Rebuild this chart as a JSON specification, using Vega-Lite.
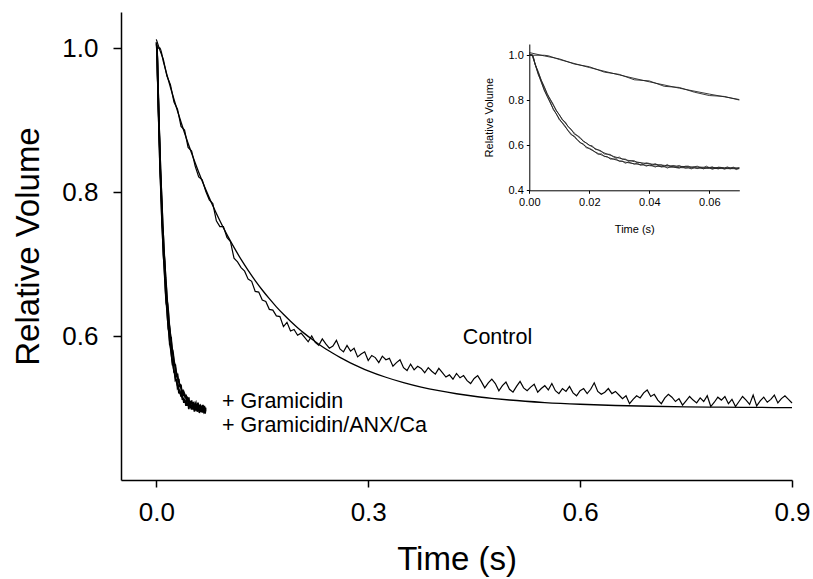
{
"$schema":"https://vega.github.io/schema/vega-lite/v6.json",
"width":671,"height":468,"autosize":"none",
"padding":{"left":121,"top":12,"right":21,"bottom":99},
"background":"white",
"config":{"view":{"stroke":null},"font":"Liberation Sans","axis":{"grid":false,"domainColor":"black","tickColor":"black","labelColor":"black","titleColor":"black","titleFontWeight":"normal","labelFont":"Liberation Sans","titleFont":"Liberation Sans"}},
"datasets":{
"control":[
{"t":0,"v":1.012},{"t":0.005,"v":0.997},{"t":0.01,"v":0.984},{"t":0.015,"v":0.961},{"t":0.02,"v":0.949},{"t":0.025,"v":0.925},{"t":0.03,"v":0.915},{"t":0.035,"v":0.891},{"t":0.04,"v":0.886},{"t":0.045,"v":0.862},{"t":0.05,"v":0.857},{"t":0.055,"v":0.836},{"t":0.06,"v":0.821},{"t":0.065,"v":0.817},{"t":0.07,"v":0.801},{"t":0.075,"v":0.789},{"t":0.08,"v":0.784},{"t":0.085,"v":0.760},{"t":0.09,"v":0.752},{"t":0.095,"v":0.752},{"t":0.1,"v":0.737},
{"t":0.105,"v":0.731},{"t":0.11,"v":0.708},{"t":0.115,"v":0.703},{"t":0.12,"v":0.695},{"t":0.125,"v":0.690},{"t":0.13,"v":0.679},{"t":0.135,"v":0.676},{"t":0.14,"v":0.662},{"t":0.145,"v":0.661},{"t":0.15,"v":0.650},{"t":0.155,"v":0.648},{"t":0.16,"v":0.637},{"t":0.165,"v":0.636},{"t":0.17,"v":0.628},{"t":0.175,"v":0.627},{"t":0.18,"v":0.613},{"t":0.185,"v":0.619},{"t":0.19,"v":0.607},{"t":0.195,"v":0.609},{"t":0.2,"v":0.601},
{"t":0.205,"v":0.604},{"t":0.21,"v":0.598},{"t":0.215,"v":0.592},{"t":0.22,"v":0.600},{"t":0.225,"v":0.591},{"t":0.23,"v":0.587},{"t":0.235,"v":0.596},{"t":0.24,"v":0.589},{"t":0.245,"v":0.583},{"t":0.25,"v":0.586},{"t":0.255,"v":0.594},{"t":0.26,"v":0.582},{"t":0.265,"v":0.578},{"t":0.27,"v":0.587},{"t":0.275,"v":0.579},{"t":0.28,"v":0.583},{"t":0.285,"v":0.571},{"t":0.29,"v":0.575},{"t":0.295,"v":0.578},{"t":0.3,"v":0.566},
{"t":0.305,"v":0.573},{"t":0.31,"v":0.570},{"t":0.315,"v":0.563},{"t":0.32,"v":0.572},{"t":0.325,"v":0.567},{"t":0.33,"v":0.569},{"t":0.335,"v":0.558},{"t":0.34,"v":0.563},{"t":0.345,"v":0.567},{"t":0.35,"v":0.556},{"t":0.355,"v":0.552},{"t":0.36,"v":0.561},{"t":0.365,"v":0.553},{"t":0.37,"v":0.558},{"t":0.375,"v":0.555},{"t":0.38,"v":0.549},{"t":0.385,"v":0.556},{"t":0.39,"v":0.551},{"t":0.395,"v":0.547},{"t":0.4,"v":0.555},
{"t":0.405,"v":0.549},{"t":0.41,"v":0.543},{"t":0.415,"v":0.546},{"t":0.42,"v":0.540},{"t":0.425,"v":0.548},{"t":0.43,"v":0.542},{"t":0.435,"v":0.545},{"t":0.44,"v":0.538},{"t":0.445,"v":0.534},{"t":0.45,"v":0.541},{"t":0.455,"v":0.545},{"t":0.46,"v":0.537},{"t":0.465,"v":0.528},{"t":0.47,"v":0.535},{"t":0.475,"v":0.540},{"t":0.48,"v":0.534},{"t":0.485,"v":0.524},{"t":0.49,"v":0.531},{"t":0.495,"v":0.536},{"t":0.5,"v":0.526},
{"t":0.505,"v":0.522},{"t":0.51,"v":0.530},{"t":0.515,"v":0.537},{"t":0.52,"v":0.528},{"t":0.525,"v":0.524},{"t":0.53,"v":0.529},{"t":0.535,"v":0.533},{"t":0.54,"v":0.522},{"t":0.545,"v":0.527},{"t":0.55,"v":0.531},{"t":0.555,"v":0.525},{"t":0.56,"v":0.534},{"t":0.565,"v":0.524},{"t":0.57,"v":0.520},{"t":0.575,"v":0.527},{"t":0.58,"v":0.523},{"t":0.585,"v":0.530},{"t":0.59,"v":0.521},{"t":0.595,"v":0.517},{"t":0.6,"v":0.524},
{"t":0.605,"v":0.527},{"t":0.61,"v":0.520},{"t":0.615,"v":0.526},{"t":0.62,"v":0.535},{"t":0.625,"v":0.523},{"t":0.63,"v":0.519},{"t":0.635,"v":0.522},{"t":0.64,"v":0.527},{"t":0.645,"v":0.520},{"t":0.65,"v":0.523},{"t":0.655,"v":0.518},{"t":0.66,"v":0.513},{"t":0.665,"v":0.517},{"t":0.67,"v":0.506},{"t":0.675,"v":0.512},{"t":0.68,"v":0.517},{"t":0.685,"v":0.514},{"t":0.69,"v":0.521},{"t":0.695,"v":0.525},{"t":0.7,"v":0.516},
{"t":0.705,"v":0.519},{"t":0.71,"v":0.511},{"t":0.715,"v":0.506},{"t":0.72,"v":0.514},{"t":0.725,"v":0.519},{"t":0.73,"v":0.515},{"t":0.735,"v":0.509},{"t":0.74,"v":0.513},{"t":0.745,"v":0.504},{"t":0.75,"v":0.510},{"t":0.755,"v":0.516},{"t":0.76,"v":0.511},{"t":0.765,"v":0.507},{"t":0.77,"v":0.514},{"t":0.775,"v":0.509},{"t":0.78,"v":0.517},{"t":0.785,"v":0.502},{"t":0.79,"v":0.508},{"t":0.795,"v":0.515},{"t":0.8,"v":0.511},
{"t":0.805,"v":0.516},{"t":0.81,"v":0.506},{"t":0.815,"v":0.512},{"t":0.82,"v":0.502},{"t":0.825,"v":0.509},{"t":0.83,"v":0.516},{"t":0.835,"v":0.511},{"t":0.84,"v":0.505},{"t":0.845,"v":0.518},{"t":0.85,"v":0.503},{"t":0.855,"v":0.510},{"t":0.86,"v":0.515},{"t":0.865,"v":0.508},{"t":0.87,"v":0.512},{"t":0.875,"v":0.518},{"t":0.88,"v":0.507},{"t":0.885,"v":0.513},{"t":0.89,"v":0.517},{"t":0.895,"v":0.512},{"t":0.9,"v":0.507}
],
"controlFit":[
{"t":0,"v":1.0},{"t":0.005,"v":1.0},{"t":0.01,"v":0.9811},{"t":0.02,"v":0.9455},{"t":0.03,"v":0.9125},{"t":0.04,"v":0.882},{"t":0.05,"v":0.8537},{"t":0.06,"v":0.8275},{"t":0.07,"v":0.8033},{"t":0.08,"v":0.7808},{"t":0.09,"v":0.76},{"t":0.1,"v":0.7408},{"t":0.11,"v":0.723},{"t":0.12,"v":0.7064},{"t":0.13,"v":0.6912},{"t":0.14,"v":0.677},{"t":0.15,"v":0.6639},{"t":0.16,"v":0.6518},{"t":0.17,"v":0.6405},{"t":0.18,"v":0.6301},{"t":0.19,"v":0.6205},{"t":0.2,"v":0.6116},{"t":0.21,"v":0.6033},{"t":0.22,"v":0.5957},{"t":0.23,"v":0.5886},{"t":0.24,"v":0.582},{"t":0.25,"v":0.576},{"t":0.26,"v":0.5703},{"t":0.27,"v":0.5651},{"t":0.28,"v":0.5603},{"t":0.29,"v":0.5558},{"t":0.3,"v":0.5517},{"t":0.325,"v":0.5427},{"t":0.35,"v":0.5352},{"t":0.375,"v":0.529},{"t":0.4,"v":0.524},{"t":0.425,"v":0.5198},{"t":0.45,"v":0.5163},{"t":0.475,"v":0.5135},{"t":0.5,"v":0.5111},{"t":0.55,"v":0.5076},{"t":0.6,"v":0.5052},{"t":0.65,"v":0.5035},{"t":0.7,"v":0.5024},{"t":0.75,"v":0.5016},{"t":0.8,"v":0.5011},{"t":0.85,"v":0.5008},{"t":0.9,"v":0.5005}
],
"gram":[
{"t":0,"v":1.008,"s":"g1"},{"t":0.001,"v":0.996,"s":"g1"},{"t":0.002,"v":0.9591,"s":"g1"},{"t":0.003,"v":0.9141,"s":"g1"},{"t":0.004,"v":0.8835,"s":"g1"},{"t":0.005,"v":0.843,"s":"g1"},{"t":0.006,"v":0.8176,"s":"g1"},{"t":0.007,"v":0.7927,"s":"g1"},{"t":0.008,"v":0.7582,"s":"g1"},{"t":0.009,"v":0.74,"s":"g1"},{"t":0.01,"v":0.7128,"s":"g1"},{"t":0.011,"v":0.7015,"s":"g1"},{"t":0.012,"v":0.6848,"s":"g1"},{"t":0.013,"v":0.6626,"s":"g1"},{"t":0.014,"v":0.6459,"s":"g1"},{"t":0.015,"v":0.6414,"s":"g1"},{"t":0.016,"v":0.6251,"s":"g1"},{"t":0.017,"v":0.6099,"s":"g1"},{"t":0.018,"v":0.6067,"s":"g1"},{"t":0.019,"v":0.5883,"s":"g1"},{"t":0.02,"v":0.5868,"s":"g1"},{"t":0.021,"v":0.58,"s":"g1"},{"t":0.022,"v":0.5688,"s":"g1"},{"t":0.023,"v":0.5593,"s":"g1"},{"t":0.024,"v":0.5624,"s":"g1"},{"t":0.025,"v":0.55,"s":"g1"},{"t":0.026,"v":0.55,"s":"g1"},{"t":0.027,"v":0.5385,"s":"g1"},{"t":0.028,"v":0.5394,"s":"g1"},{"t":0.029,"v":0.5386,"s":"g1"},{"t":0.03,"v":0.5282,"s":"g1"},{"t":0.031,"v":0.53,"s":"g1"},{"t":0.032,"v":0.5201,"s":"g1"},{"t":0.033,"v":0.5255,"s":"g1"},{"t":0.034,"v":0.5211,"s":"g1"},{"t":0.035,"v":0.5159,"s":"g1"},{"t":0.036,"v":0.521,"s":"g1"},{"t":0.037,"v":0.5111,"s":"g1"},{"t":0.038,"v":0.5145,"s":"g1"},{"t":0.039,"v":0.507,"s":"g1"},{"t":0.04,"v":0.5126,"s":"g1"},{"t":0.041,"v":0.5093,"s":"g1"},{"t":0.042,"v":0.5031,"s":"g1"},{"t":0.043,"v":0.5101,"s":"g1"},{"t":0.044,"v":0.5031,"s":"g1"},{"t":0.045,"v":0.5072,"s":"g1"},{"t":0.046,"v":0.4984,"s":"g1"},{"t":0.047,"v":0.5047,"s":"g1"},{"t":0.048,"v":0.506,"s":"g1"},{"t":0.049,"v":0.5004,"s":"g1"},{"t":0.05,"v":0.4979,"s":"g1"},{"t":0.051,"v":0.5054,"s":"g1"},{"t":0.052,"v":0.4979,"s":"g1"},{"t":0.053,"v":0.5004,"s":"g1"},{"t":0.054,"v":0.495,"s":"g1"},{"t":0.055,"v":0.5017,"s":"g1"},{"t":0.056,"v":0.4964,"s":"g1"},{"t":0.057,"v":0.5021,"s":"g1"},{"t":0.058,"v":0.4948,"s":"g1"},{"t":0.059,"v":0.4996,"s":"g1"},{"t":0.06,"v":0.5003,"s":"g1"},{"t":0.061,"v":0.4931,"s":"g1"},{"t":0.062,"v":0.498,"s":"g1"},{"t":0.063,"v":0.4948,"s":"g1"},{"t":0.064,"v":0.5006,"s":"g1"},{"t":0.065,"v":0.4935,"s":"g1"},{"t":0.066,"v":0.4984,"s":"g1"},{"t":0.067,"v":0.4953,"s":"g1"},{"t":0.068,"v":0.4992,"s":"g1"},{"t":0.069,"v":0.4921,"s":"g1"},{"t":0.07,"v":0.498,"s":"g1"},
{"t":0,"v":1.005,"s":"g2"},{"t":0.001,"v":1.003,"s":"g2"},{"t":0.002,"v":0.9568,"s":"g2"},{"t":0.003,"v":0.9269,"s":"g2"},{"t":0.004,"v":0.887,"s":"g2"},{"t":0.005,"v":0.8607,"s":"g2"},{"t":0.006,"v":0.8249,"s":"g2"},{"t":0.007,"v":0.8045,"s":"g2"},{"t":0.008,"v":0.7821,"s":"g2"},{"t":0.009,"v":0.7527,"s":"g2"},{"t":0.01,"v":0.7361,"s":"g2"},{"t":0.011,"v":0.7122,"s":"g2"},{"t":0.012,"v":0.7037,"s":"g2"},{"t":0.013,"v":0.6817,"s":"g2"},{"t":0.014,"v":0.6709,"s":"g2"},{"t":0.015,"v":0.6493,"s":"g2"},{"t":0.016,"v":0.6438,"s":"g2"},{"t":0.017,"v":0.6343,"s":"g2"},{"t":0.018,"v":0.6167,"s":"g2"},{"t":0.019,"v":0.6101,"s":"g2"},{"t":0.02,"v":0.5991,"s":"g2"},{"t":0.021,"v":0.5978,"s":"g2"},{"t":0.022,"v":0.5812,"s":"g2"},{"t":0.023,"v":0.5803,"s":"g2"},{"t":0.024,"v":0.5748,"s":"g2"},{"t":0.025,"v":0.5609,"s":"g2"},{"t":0.026,"v":0.5606,"s":"g2"},{"t":0.027,"v":0.5595,"s":"g2"},{"t":0.028,"v":0.5489,"s":"g2"},{"t":0.029,"v":0.5427,"s":"g2"},{"t":0.03,"v":0.5478,"s":"g2"},{"t":0.031,"v":0.5382,"s":"g2"},{"t":0.032,"v":0.5389,"s":"g2"},{"t":0.033,"v":0.5289,"s":"g2"},{"t":0.034,"v":0.5321,"s":"g2"},{"t":0.035,"v":0.5315,"s":"g2"},{"t":0.036,"v":0.5222,"s":"g2"},{"t":0.037,"v":0.5231,"s":"g2"},{"t":0.038,"v":0.516,"s":"g2"},{"t":0.039,"v":0.5221,"s":"g2"},{"t":0.04,"v":0.5195,"s":"g2"},{"t":0.041,"v":0.5129,"s":"g2"},{"t":0.042,"v":0.5185,"s":"g2"},{"t":0.043,"v":0.5112,"s":"g2"},{"t":0.044,"v":0.5131,"s":"g2"},{"t":0.045,"v":0.5068,"s":"g2"},{"t":0.046,"v":0.5148,"s":"g2"},{"t":0.047,"v":0.505,"s":"g2"},{"t":0.048,"v":0.51,"s":"g2"},{"t":0.049,"v":0.5062,"s":"g2"},{"t":0.05,"v":0.5105,"s":"g2"},{"t":0.051,"v":0.5028,"s":"g2"},{"t":0.052,"v":0.5072,"s":"g2"},{"t":0.053,"v":0.5076,"s":"g2"},{"t":0.054,"v":0.5001,"s":"g2"},{"t":0.055,"v":0.5046,"s":"g2"},{"t":0.056,"v":0.5071,"s":"g2"},{"t":0.057,"v":0.5007,"s":"g2"},{"t":0.058,"v":0.4994,"s":"g2"},{"t":0.059,"v":0.5074,"s":"g2"},{"t":0.06,"v":0.5,"s":"g2"},{"t":0.061,"v":0.5047,"s":"g2"},{"t":0.062,"v":0.4971,"s":"g2"},{"t":0.063,"v":0.5031,"s":"g2"},{"t":0.064,"v":0.5016,"s":"g2"},{"t":0.065,"v":0.4976,"s":"g2"},{"t":0.066,"v":0.5042,"s":"g2"},{"t":0.067,"v":0.4983,"s":"g2"},{"t":0.068,"v":0.5029,"s":"g2"},{"t":0.069,"v":0.4959,"s":"g2"},{"t":0.07,"v":0.5006,"s":"g2"}
],
"gramFit":[
{"t":0,"v":1.0,"s":"g1"},{"t":0.001,"v":1.0,"s":"g1"},{"t":0.002,"v":0.9561,"s":"g1"},{"t":0.003,"v":0.9161,"s":"g1"},{"t":0.004,"v":0.8795,"s":"g1"},{"t":0.005,"v":0.846,"s":"g1"},{"t":0.006,"v":0.8156,"s":"g1"},{"t":0.007,"v":0.7877,"s":"g1"},{"t":0.008,"v":0.7622,"s":"g1"},{"t":0.009,"v":0.739,"s":"g1"},{"t":0.01,"v":0.7178,"s":"g1"},{"t":0.012,"v":0.6808,"s":"g1"},{"t":0.014,"v":0.6499,"s":"g1"},{"t":0.016,"v":0.6241,"s":"g1"},{"t":0.018,"v":0.6027,"s":"g1"},{"t":0.02,"v":0.5848,"s":"g1"},{"t":0.023,"v":0.5633,"s":"g1"},{"t":0.026,"v":0.547,"s":"g1"},{"t":0.03,"v":0.5312,"s":"g1"},{"t":0.035,"v":0.5179,"s":"g1"},{"t":0.04,"v":0.5096,"s":"g1"},{"t":0.045,"v":0.5042,"s":"g1"},{"t":0.05,"v":0.5009,"s":"g1"},{"t":0.055,"v":0.4987,"s":"g1"},{"t":0.06,"v":0.4973,"s":"g1"},{"t":0.065,"v":0.4965,"s":"g1"},{"t":0.07,"v":0.496,"s":"g1"},
{"t":0,"v":1.0,"s":"g2"},{"t":0.001,"v":1.0,"s":"g2"},{"t":0.002,"v":0.9598,"s":"g2"},{"t":0.003,"v":0.9229,"s":"g2"},{"t":0.004,"v":0.889,"s":"g2"},{"t":0.005,"v":0.8577,"s":"g2"},{"t":0.006,"v":0.8289,"s":"g2"},{"t":0.007,"v":0.8025,"s":"g2"},{"t":0.008,"v":0.7781,"s":"g2"},{"t":0.009,"v":0.7557,"s":"g2"},{"t":0.01,"v":0.7351,"s":"g2"},{"t":0.012,"v":0.6987,"s":"g2"},{"t":0.014,"v":0.6679,"s":"g2"},{"t":0.016,"v":0.6418,"s":"g2"},{"t":0.018,"v":0.6197,"s":"g2"},{"t":0.02,"v":0.6011,"s":"g2"},{"t":0.023,"v":0.5783,"s":"g2"},{"t":0.026,"v":0.5605,"s":"g2"},{"t":0.03,"v":0.5428,"s":"g2"},{"t":0.035,"v":0.5275,"s":"g2"},{"t":0.04,"v":0.5175,"s":"g2"},{"t":0.045,"v":0.5108,"s":"g2"},{"t":0.05,"v":0.5065,"s":"g2"},{"t":0.055,"v":0.5036,"s":"g2"},{"t":0.06,"v":0.5017,"s":"g2"},{"t":0.065,"v":0.5004,"s":"g2"},{"t":0.07,"v":0.4996,"s":"g2"}
],
"labels":[
{"t":0.434,"v":0.597,"label":"Control"},
{"t":0.093,"v":0.508,"label":"+ Gramicidin"},
{"t":0.093,"v":0.4755,"label":"+ Gramicidin/ANX/Ca"}
]
},
"layer":[
{
"encoding":{
"x":{"field":"t","type":"quantitative","scale":{"domain":[-0.05,0.9],"nice":false,"zero":false},
"axis":{"orient":"bottom","values":[0,0.3,0.6,0.9],"format":".1f","title":"Time (s)","labelFontSize":26,"titleFontSize":33,"tickSize":7,"tickWidth":1.5,"domainWidth":1.5,"labelPadding":12,"titlePadding":18,"labelFlush":false}},
"y":{"field":"v","type":"quantitative","scale":{"domain":[0.4,1.05],"nice":false,"zero":false},
"axis":{"orient":"left","values":[0.6,0.8,1.0],"format":".1f","title":"Relative Volume","labelFontSize":26,"titleFontSize":33,"tickSize":8,"tickWidth":1.5,"domainWidth":1.5,"labelPadding":15,"titlePadding":16,"labelFlush":false}}
},
"layer":[
{"data":{"name":"control"},"mark":{"type":"line","color":"black","strokeWidth":1.2}},
{"data":{"name":"controlFit"},"mark":{"type":"line","color":"black","strokeWidth":1.3,"interpolate":"monotone"}},
{"data":{"name":"gram"},"mark":{"type":"line","color":"black","strokeWidth":1.7},"encoding":{"detail":{"field":"s"}}},
{"data":{"name":"gramFit"},"mark":{"type":"line","color":"black","strokeWidth":1.7,"interpolate":"monotone"},"encoding":{"detail":{"field":"s"}}},
{"data":{"name":"labels"},"mark":{"type":"text","align":"left","baseline":"middle","fontSize":21.5,"font":"Liberation Sans","color":"black"},"encoding":{"text":{"field":"label"}}}
]
},
{
"encoding":{
"x":{"field":"t","type":"quantitative","scale":{"domain":[0,0.07],"range":[408.3,618.3],"nice":false,"zero":false},
"axis":{"orient":"bottom","offset":-289.7,"values":[0,0.02,0.04,0.06],"format":".2f","title":"Time (s)","labelFontSize":11,"titleFontSize":11,"tickSize":3,"tickWidth":1,"domainWidth":1,"labelPadding":3,"titlePadding":16,"labelFlush":false}},
"y":{"field":"v","type":"quantitative","scale":{"domain":[0.4,1.05],"range":[178.3,32],"nice":false,"zero":false},
"axis":{"orient":"left","offset":-408.3,"values":[0.4,0.6,0.8,1.0],"format":".1f","title":"Relative Volume","labelFontSize":11,"titleFontSize":11,"tickSize":3,"tickWidth":1,"domainWidth":1,"labelPadding":3,"titlePadding":14,"labelFlush":false}}
},
"layer":[
{"data":{"name":"control"},"transform":[{"filter":"datum.t <= 0.0701"}],"mark":{"type":"line","color":"#222","strokeWidth":0.9}},
{"data":{"name":"controlFit"},"transform":[{"filter":"datum.t <= 0.0701"}],"mark":{"type":"line","color":"#222","strokeWidth":0.9,"interpolate":"monotone"}},
{"data":{"name":"gram"},"mark":{"type":"line","color":"#222","strokeWidth":0.8},"encoding":{"detail":{"field":"s"}}},
{"data":{"name":"gramFit"},"mark":{"type":"line","color":"#222","strokeWidth":0.9,"interpolate":"monotone"},"encoding":{"detail":{"field":"s"}}}
]
}
],
"resolve":{"scale":{"x":"independent","y":"independent"},"axis":{"x":"independent","y":"independent"}}
}
